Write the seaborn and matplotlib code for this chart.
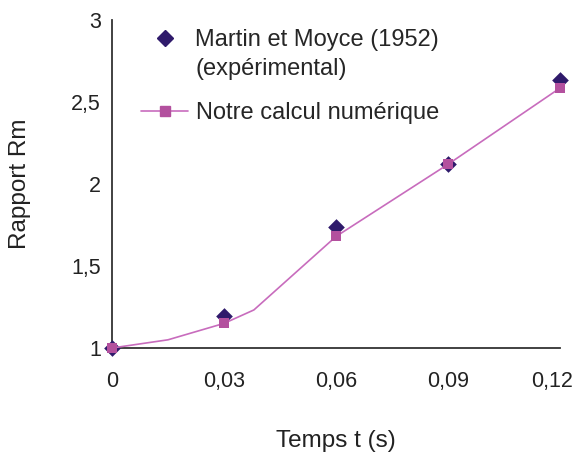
import pandas as pd
import matplotlib.pyplot as plt
import matplotlib.transforms as mtransforms
from matplotlib.lines import Line2D
import seaborn as sns

# Martin et Moyce (1952), points expérimentaux
exp_t = [0.0, 0.03, 0.06, 0.09, 0.12]
exp_rm = [1.0, 1.195, 1.735, 2.12, 2.635]

# Notre calcul numérique : points marqués
num_t = [0.0, 0.03, 0.06, 0.09, 0.12]
num_rm = [1.0, 1.15, 1.68, 2.12, 2.585]

curve_t = [0.0, 0.015, 0.03, 0.038, 0.06, 0.09, 0.12]
curve_rm = [1.0, 1.05, 1.15, 1.232, 1.68, 2.12, 2.585]

x_ticks = [0, 0.03, 0.06, 0.09, 0.12]
x_tick_labels = ["0", "0,03", "0,06", "0,09", "0,12"]
y_ticks = [1, 1.5, 2, 2.5, 3]
y_tick_labels = ["1", "1,5", "2", "2,5", "3"]

exp_df = pd.DataFrame({"t": exp_t, "rm": exp_rm})
num_df = pd.DataFrame({"t": num_t, "rm": num_rm})
curve_df = pd.DataFrame({"t": curve_t, "rm": curve_rm})

DIAMOND = "#2f1a6b"
SQUARE = "#b3509e"
LINE = "#c86cbd"

sns.set_style("white")
plt.rcParams["font.family"] = ["Liberation Sans", "DejaVu Sans"]

fig = plt.figure(figsize=(5.74, 4.55), dpi=100)
ax = fig.add_axes([112 / 574, 1 - 348 / 455, 448 / 574, 328 / 455])

sns.scatterplot(data=exp_df, x="t", y="rm", marker="D", s=72, color=DIAMOND,
                edgecolor=DIAMOND, linewidth=0, ax=ax, zorder=3, clip_on=False)
sns.lineplot(data=curve_df, x="t", y="rm", sort=False, estimator=None,
             color=LINE, linewidth=1.2, ax=ax, zorder=4, clip_on=False)
sns.scatterplot(data=num_df, x="t", y="rm", marker="s", s=52, color=SQUARE,
                edgecolor=SQUARE, linewidth=0, ax=ax, zorder=5, clip_on=False)

ax.set_xlim(0, 0.12)
ax.set_ylim(1, 3)
ax.set_xticks(x_ticks)
ax.set_xticklabels(x_tick_labels)
ax.set_yticks(y_ticks)
ax.set_yticklabels(y_tick_labels)

for side in ["top", "right"]:
    ax.spines[side].set_visible(False)
for side in ["left", "bottom"]:
    ax.spines[side].set_color("#333333")
    ax.spines[side].set_linewidth(1.3)

ax.tick_params(axis="x", direction="in", length=4, width=1.2, color="#333333",
               labelsize=15.5, labelcolor="#222222", pad=16.5)
ax.tick_params(axis="y", direction="in", length=4, width=1.2, color="#333333",
               labelsize=15.5, labelcolor="#222222", pad=8)

# dernier label décalé pour tenir dans l'image (comme dans Excel)
last = ax.get_xticklabels()[-1]
last.set_horizontalalignment("right")
last.set_transform(last.get_transform() +
                   mtransforms.ScaledTranslation(13 / 100, 0, fig.dpi_scale_trans))

ax.set_xlabel("Temps t (s)", fontsize=17.5, color="#222222")
ax.set_ylabel("Rapport Rm", fontsize=17.5, color="#222222")
ax.xaxis.set_label_coords(0.5, -0.25)
ax.yaxis.set_label_coords(-0.18, 0.5)

# legende
h_exp = Line2D([], [], marker="D", markersize=8.5, color=DIAMOND, linestyle="none")
h_blank = Line2D([], [], linestyle="none")
h_num = Line2D([], [], marker="s", markersize=7.2, color=LINE,
               markerfacecolor=SQUARE, markeredgecolor=SQUARE,
               linestyle="-", linewidth=1.2)

leg1 = ax.legend([h_exp, h_blank], ["Martin et Moyce (1952)", "(expérimental)"],
                 loc="upper left", bbox_to_anchor=(141 / 574, 1 - 29 / 455),
                 bbox_transform=fig.transFigure, frameon=False, fontsize=17,
                 handlelength=2.0, handletextpad=0.3, labelspacing=0.3,
                 borderpad=0, borderaxespad=0)
ax.add_artist(leg1)
ax.legend([h_num], ["Notre calcul numérique"],
          loc="upper left", bbox_to_anchor=(141 / 574, 1 - 102 / 455),
          bbox_transform=fig.transFigure, frameon=False, fontsize=17,
          handlelength=2.0, handletextpad=0.35, borderpad=0, borderaxespad=0)

fig.savefig("out.png", dpi=100)
